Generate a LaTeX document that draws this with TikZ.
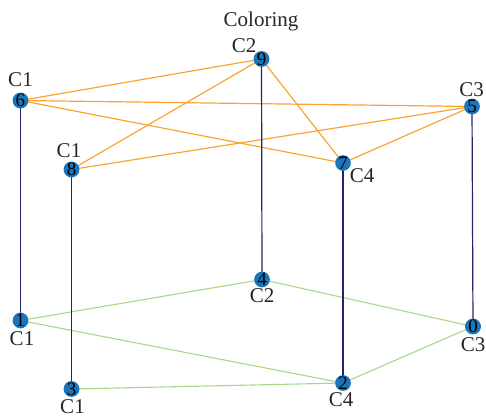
\documentclass[tikz,border=0pt]{standalone}
\usepackage{fontspec}
\setmainfont{Liberation Serif}
\usetikzlibrary{backgrounds}
\definecolor{nodeblue}{HTML}{1B75BB}
\definecolor{topor}{HTML}{FBA333}
\definecolor{vnavy}{HTML}{23236E}
\definecolor{botgr}{HTML}{A8D88C}
\tikzset{
  vtx/.style={circle,fill=nodeblue,minimum size=15pt,inner sep=0pt,font=\fontsize{19}{19}\selectfont,text=black},
  lbl/.style={font=\fontsize{21}{21}\selectfont,text=black!85,inner sep=0pt},
  topedge/.style={topor,line width=1.2pt},
  botedge/.style={botgr,line width=1.1pt},
  vedge/.style={vnavy,line width=1.2pt},
}
\begin{document}
\begin{tikzpicture}[x=1pt,y=-1pt]
\useasboundingbox (0,0) rectangle (486,415);
\node (v6) [vtx] at (20.5,100.5) {6};
\node (v9) [vtx] at (261.5,59) {9};
\node (v8) [vtx] at (71.5,169.5) {8};
\node (v7) [vtx] at (343,163) {7};
\node (v5) [vtx] at (472,106.5) {5};
\node (v1) [vtx] at (20.5,320.5) {1};
\node (v4) [vtx] at (262,279.5) {4};
\node (v3) [vtx] at (71.5,389) {3};
\node (v2) [vtx] at (343,383) {2};
\node (v0) [vtx] at (473,326.5) {0};
\node (title) [lbl] at (261,21) {Coloring};
\node (l6) [lbl] at (20.5,79.5) {C1};
\node (l9) [lbl] at (244,45.5) {C2};
\node (l8) [lbl] at (69,151) {C1};
\node (l7) [lbl] at (362,175.5) {C4};
\node (l5) [lbl] at (471.5,89.5) {C3};
\node (l1) [lbl] at (22,339) {C1};
\node (l4) [lbl] at (262,296) {C2};
\node (l3) [lbl] at (72.5,407) {C1};
\node (l2) [lbl] at (341,400) {C4};
\node (l0) [lbl] at (473,344.5) {C3};
\begin{pgfonlayer}{background}
\draw[topedge] (v6.center) -- (v9.center);
\draw[topedge] (v6.center) -- (v5.center);
\draw[topedge] (v6.center) -- (v7.center);
\draw[topedge] (v9.center) -- (v8.center);
\draw[topedge] (v9.center) -- (v7.center);
\draw[topedge] (v8.center) -- (v5.center);
\draw[topedge] (v7.center) -- (v5.center);
\draw[botedge] (v1.center) -- (v4.center);
\draw[botedge] (v1.center) -- (v2.center);
\draw[botedge] (v3.center) -- (v2.center);
\draw[botedge] (v4.center) -- (v0.center);
\draw[botedge] (v2.center) -- (v0.center);
\draw[vedge] (v6.center) -- (v1.center);
\draw[vedge] (v9.center) -- (v4.center);
\draw[vedge] (v8.center) -- (v3.center);
\draw[vedge] (v7.center) -- (v2.center);
\draw[vedge] (v5.center) -- (v0.center);
\end{pgfonlayer}
\end{tikzpicture}
\end{document}
